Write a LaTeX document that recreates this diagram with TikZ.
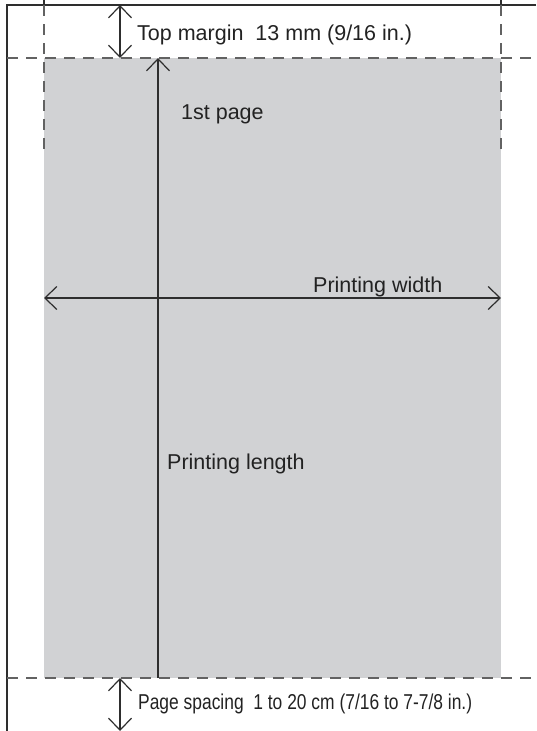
\documentclass[tikz,border=0pt]{standalone}
\usepackage{fontspec}
\setmainfont{Liberation Sans}
\newfontfamily\narrowfont[FakeStretch=0.81]{Liberation Sans}
\usetikzlibrary{arrows.meta}
\definecolor{inkc}{HTML}{2E2E2E}
\definecolor{txtc}{HTML}{222222}
\definecolor{paperc}{HTML}{D1D2D4}
\tikzset{
  solidline/.style={draw=inkc, line width=1.2pt},
  dashline/.style={draw=inkc!75, line width=1.2pt, dash pattern=on 11pt off 8pt},
  dimarrow/.style={draw=inkc, line width=1.2pt, arrows={Straight Barb[length=12pt,width=23pt]-Straight Barb[length=12pt,width=23pt]}},
  uparrow/.style={draw=inkc, line width=1.2pt, arrows={-Straight Barb[length=12pt,width=23pt]}},
  lbl/.style={anchor=base west, inner sep=0pt, text=txtc, font=\fontsize{21.5}{24}\selectfont},
  narrowlbl/.style={anchor=base west, inner sep=0pt, text=txtc, font=\narrowfont\fontsize{21.5}{24}\selectfont}
}
\begin{document}
\begin{tikzpicture}[x=1pt,y=-1pt]
\useasboundingbox (0,0) rectangle (536,731);
% paper (printed page area)
\fill[paperc] (44,58) rectangle (501,678);
% frame lines
\coordinate (tl) at (7,5);
\coordinate (tr) at (536,5);
\coordinate (bl) at (7,731);
\draw[solidline] (tr) -- (tl) -- (bl);
\coordinate (la) at (44,0); \coordinate (lb) at (44,5);
\coordinate (ra) at (501,0); \coordinate (rb) at (501,5);
\draw[solidline] (la) -- (lb);
\draw[solidline] (ra) -- (rb);
% dashed lines
\coordinate (h1a) at (7,58); \coordinate (h1b) at (536,58);
\coordinate (h2a) at (7,678); \coordinate (h2b) at (536,678);
\draw[dashline] (h1a) -- (h1b);
\draw[dashline] (h2a) -- (h2b);
\coordinate (v1a) at (44,5); \coordinate (v1b) at (44,156);
\coordinate (v2a) at (501,5); \coordinate (v2b) at (501,156);
\draw[dashline] (v1a) -- (v1b);
\draw[dashline] (v2a) -- (v2b);
% top margin arrow
\coordinate (tma) at (120,5); \coordinate (tmb) at (120,58);
\draw[dimarrow] (tma) -- (tmb);
\node[lbl] (tm) at (137,40) {Top margin\ \ 13 mm (9/16 in.)};
% printing length arrow
\coordinate (pla) at (158,678); \coordinate (plb) at (158,58);
\draw[uparrow] (pla) -- (plb);
\node[lbl] (fp) at (181,119) {1st page};
\node[lbl] (pl) at (167,469) {Printing length};
% printing width arrow
\coordinate (pwa) at (44,298); \coordinate (pwb) at (501,298);
\draw[dimarrow] (pwa) -- (pwb);
\node[lbl] (pw) at (313,292.5) {Printing width};
% page spacing arrow
\coordinate (psa) at (120,678); \coordinate (psb) at (120,731);
\draw[dimarrow] (psa) -- (psb);
\node[narrowlbl] (ps) at (138,709) {Page spacing\ \ 1 to 20 cm (7/16 to 7-7/8 in.)};
\end{tikzpicture}
\end{document}
